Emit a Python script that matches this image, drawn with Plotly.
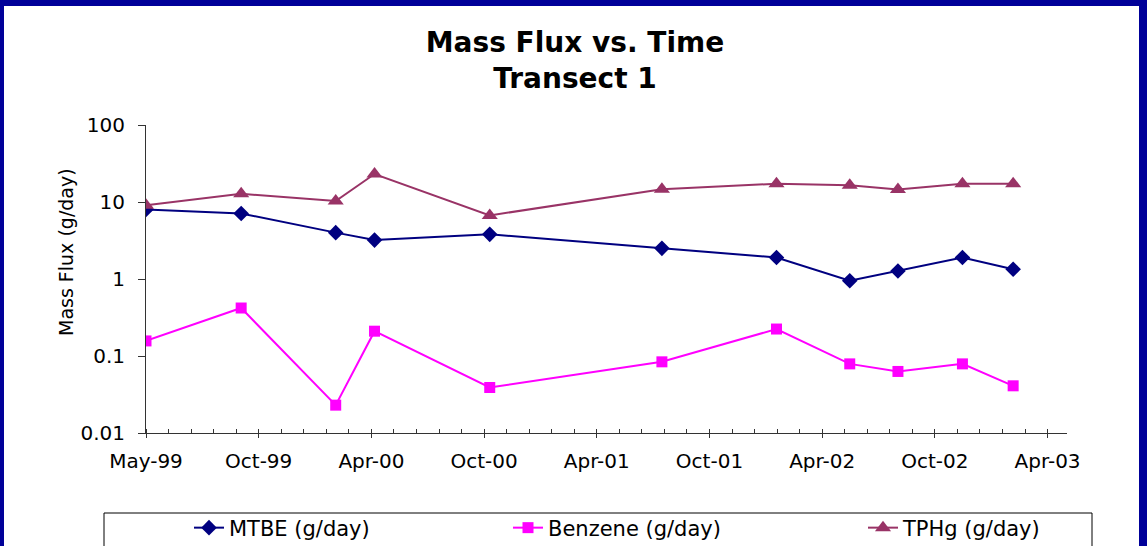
import plotly.graph_objects as go

# Sampling dates and mass flux per constituent (g/day)
sample_dates = [
    "1999-05-03", "1999-10-02", "2000-03-01", "2000-05-02", "2000-11-02",
    "2001-08-04", "2002-02-03", "2002-05-31", "2002-08-16", "2002-11-27",
    "2003-02-16",
]
mtbe = [8.0, 7.1, 4.0, 3.2, 3.8, 2.5, 1.9, 0.95, 1.27, 1.9, 1.34]
benzene = [0.157, 0.42, 0.023, 0.21, 0.039, 0.084, 0.224, 0.079, 0.063, 0.079, 0.041]
tphg = [9.1, 12.8, 10.3, 23.1, 6.7, 14.6, 17.3, 16.5, 14.5, 17.3, 17.3]

# Time axis: 180-day major steps, labelled mmm-yy
x_start = "1999-05-03"
x_end = "2003-05-13"
tick_dates = [
    "1999-05-03", "1999-10-30", "2000-04-27", "2000-10-24", "2001-04-22",
    "2001-10-19", "2002-04-17", "2002-10-14", "2003-04-12",
]
tick_labels = [
    "May-99", "Oct-99", "Apr-00", "Oct-00", "Apr-01",
    "Oct-01", "Apr-02", "Oct-02", "Apr-03",
]
minor_step_days = 36

y_tick_vals = [0.01, 0.1, 1, 10, 100]
y_tick_text = ["0.01", "0.1", "1", "10", "100"]

FONT = "DejaVu Sans, Verdana, Arial, sans-serif"
W, H = 1147, 546
ML, MR, MT, MB = 146, 80, 125, 113
PW, PH = W - ML - MR, H - MT - MB


def px_x(px):
    return (px - ML) / PW


def px_y(py):
    return (H - MB - py) / PH


fig = go.Figure()

fig.add_trace(go.Scatter(
    x=sample_dates, y=mtbe, name="MTBE (g/day)", mode="lines+markers",
    line=dict(color="#000080", width=2),
    marker=dict(symbol="diamond", size=12, color="#000080"),
    legend="legend",
))
fig.add_trace(go.Scatter(
    x=sample_dates, y=benzene, name="Benzene (g/day)", mode="lines+markers",
    line=dict(color="#FF00FF", width=2),
    marker=dict(symbol="square", size=11, color="#FF00FF"),
    legend="legend2",
))
fig.add_trace(go.Scatter(
    x=sample_dates, y=tphg, name="TPHg (g/day)", mode="lines+markers",
    line=dict(color="#993366", width=2),
    marker=dict(symbol="triangle-up", size=14, color="#993366"),
    legend="legend3",
))

axis_color = "#333333"

legend_common = dict(
    orientation="h", xref="container", yref="container",
    xanchor="left", yanchor="middle", y=1 - 528 / H,
    bgcolor="rgba(0,0,0,0)", borderwidth=0,
    font=dict(family=FONT, size=21, color="black"),
)

fig.update_layout(
    width=W, height=H,
    margin=dict(l=ML, r=MR, t=MT, b=MB, autoexpand=False),
    paper_bgcolor="#000099",
    plot_bgcolor="white",
    showlegend=True,
    title=dict(
        text="<b>Mass Flux vs. Time</b><br><b>Transect 1</b>",
        font=dict(family=FONT, size=28, color="black"),
        xref="container", yref="container",
        x=575 / W, xanchor="center", y=1 - 52 / H, yanchor="top",
    ),
    xaxis=dict(
        type="date", range=[x_start, x_end],
        tickmode="array", tickvals=tick_dates, ticktext=tick_labels,
        ticks="outside", ticklen=4, tickwidth=1, tickcolor=axis_color,
        showline=True, linecolor=axis_color, linewidth=1,
        showgrid=False, zeroline=False,
        tickfont=dict(family=FONT, size=20, color="black"),
        ticklabelstandoff=6,
        minor=dict(
            ticks="inside", ticklen=4, tickwidth=1, tickcolor=axis_color,
            tick0=x_start, dtick=minor_step_days * 86400000, showgrid=False,
        ),
    ),
    xaxis2=dict(
        type="date", range=[x_start, x_end], overlaying="x", anchor="y",
        side="bottom", tickmode="array", tickvals=tick_dates,
        ticks="inside", ticklen=4, tickwidth=1, tickcolor=axis_color,
        showticklabels=False, showline=False, showgrid=False, zeroline=False,
    ),
    yaxis=dict(
        type="log", range=[-2, 2],
        tickmode="array", tickvals=y_tick_vals, ticktext=y_tick_text,
        ticks="outside", ticklen=7, tickwidth=1, tickcolor=axis_color,
        showline=True, linecolor=axis_color, linewidth=1,
        showgrid=False, zeroline=False,
        tickfont=dict(family=FONT, size=20, color="black"),
        ticklabelstandoff=9,
    ),
    legend=dict(legend_common, x=189 / W),
    legend2=dict(legend_common, x=508 / W),
    legend3=dict(legend_common, x=863 / W),
    shapes=[
        # white chart panel inside the navy frame
        dict(type="rect", xref="paper", yref="paper", layer="below",
             x0=px_x(4), x1=px_x(1139), y0=px_y(H + 10), y1=px_y(6),
             fillcolor="white", line=dict(width=0)),
        # legend frame
        dict(type="rect", xref="paper", yref="paper", layer="above",
             x0=px_x(104), x1=px_x(1092), y0=px_y(H + 10), y1=px_y(513),
             fillcolor="rgba(0,0,0,0)", line=dict(color="black", width=1)),
    ],
    annotations=[
        dict(text="Mass Flux (g/day)", textangle=-90, showarrow=False,
             xref="paper", yref="paper", x=px_x(66), y=px_y(252),
             xanchor="center", yanchor="middle",
             font=dict(family=FONT, size=19, color="black")),
    ],
)

fig.write_html("out.html")
